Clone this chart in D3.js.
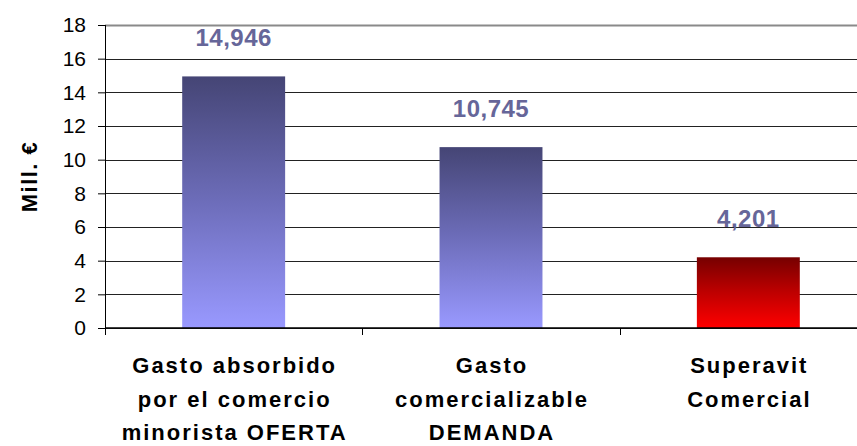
<!DOCTYPE html>
<html>
<head>
<meta charset="utf-8">
<script src="https://cdn.jsdelivr.net/npm/d3@7"></script>
<style>
  html, body { margin: 0; padding: 0; background: #fff; }
  svg { display: block; }
  text { font-family: "Liberation Sans", Arial, sans-serif; }
</style>
</head>
<body>
<svg id="chart" width="857" height="446"></svg>
<script>
// Categories (one entry per label line) and values in millions of euros
const categoryLines = [
  ["Gasto absorbido", "por el comercio", "minorista OFERTA"],
  ["Gasto", "comercializable", "DEMANDA"],
  ["Superavit", "Comercial"]
];
const categoryKeys = ["oferta", "demanda", "superavit"];
const values = [14.946, 10.745, 4.201];
const valueLabels = ["14,946", "10,745", "4,201"];
const fillIds = ["gradBlue", "gradBlue", "gradRed"];
const yTicks = [0, 2, 4, 6, 8, 10, 12, 14, 16, 18];
const yTitle = "Mill. €";

const svg = d3.select("#chart");
const plotLeft = 105, plotRight = 877, plotTop = 25, plotBottom = 328;

// Gradients: dark at the top of each bar, light at the base
const defs = svg.append("defs");
const gb = defs.append("linearGradient").attr("id", "gradBlue")
  .attr("x1", 0).attr("y1", 0).attr("x2", 0).attr("y2", 1);
gb.append("stop").attr("offset", "0%").attr("stop-color", "#454575");
gb.append("stop").attr("offset", "50%").attr("stop-color", "#6d6dba");
gb.append("stop").attr("offset", "100%").attr("stop-color", "#9999ff");
const gr = defs.append("linearGradient").attr("id", "gradRed")
  .attr("x1", 0).attr("y1", 0).attr("x2", 0).attr("y2", 1);
gr.append("stop").attr("offset", "0%").attr("stop-color", "#760000");
gr.append("stop").attr("offset", "45%").attr("stop-color", "#b80000");
gr.append("stop").attr("offset", "100%").attr("stop-color", "#ff0000");

const x = d3.scaleBand().domain(categoryKeys).range([plotLeft, plotRight])
  .paddingInner(0.6).paddingOuter(0.3);
const y = d3.scaleLinear().domain([0, 18]).range([plotBottom, plotTop]);
// crisp 1px lines on the pixel grid
const crisp = v => Math.round(v) + 0.5;

// Horizontal gridlines
svg.append("g").selectAll("line").data(yTicks).join("line")
  .attr("x1", plotLeft).attr("x2", plotRight)
  .attr("y1", d => crisp(y(d))).attr("y2", d => crisp(y(d)))
  .attr("stroke", d => d === 18 ? "#8a8a8a" : "#222")
  .attr("stroke-width", d => d === 18 ? 2 : 1);

// Y axis
const yAxis = d3.axisLeft(y).tickValues(yTicks).tickSize(7).tickPadding(12)
  .tickFormat(d3.format("d"));
const gy = svg.append("g").attr("transform", `translate(${plotLeft},0)`).call(yAxis);
gy.select(".domain").remove();
gy.selectAll(".tick line").attr("stroke", "#000");
gy.selectAll(".tick text").attr("font-size", 21).attr("fill", "#000")
  .attr("font-family", "Liberation Sans, Arial, sans-serif");
svg.append("line").attr("x1", plotLeft + 0.5).attr("x2", plotLeft + 0.5)
  .attr("y1", plotTop).attr("y2", plotBottom + 7).attr("stroke", "#000");

// Bars
svg.append("g").selectAll("rect").data(values).join("rect")
  .attr("x", (d, i) => x(categoryKeys[i]))
  .attr("width", x.bandwidth())
  .attr("y", d => y(d))
  .attr("height", d => y(0) - y(d))
  .attr("fill", (d, i) => `url(#${fillIds[i]})`);

// X axis baseline and category dividers
svg.append("line").attr("x1", plotLeft).attr("x2", plotRight)
  .attr("y1", plotBottom).attr("y2", plotBottom).attr("stroke", "#000").attr("stroke-width", 1.5);
const gap = (x.step() - x.bandwidth()) / 2;
svg.append("g").selectAll("line").data(categoryKeys).join("line")
  .attr("x1", k => crisp(x(k) - gap))
  .attr("x2", k => crisp(x(k) - gap))
  .attr("y1", plotBottom).attr("y2", plotBottom + 7).attr("stroke", "#000");

// Value labels above each bar
svg.append("g").selectAll("text").data(values).join("text")
  .attr("x", (d, i) => x(categoryKeys[i]) + x.bandwidth() / 2)
  .attr("y", d => y(d) - 30)
  .attr("text-anchor", "middle")
  .attr("font-size", 24).attr("font-weight", "bold")
  .attr("letter-spacing", 0.5)
  .attr("fill", "#666699")
  .text((d, i) => valueLabels[i]);

// Category labels
const cat = svg.append("g").selectAll("text").data(categoryLines).join("text")
  .attr("text-anchor", "middle")
  .attr("font-size", 22).attr("font-weight", "bold")
  .attr("letter-spacing", 2)
  .attr("fill", "#000");
cat.each(function (lines, i) {
  const cx = x(categoryKeys[i]) + x.bandwidth() / 2 + 1;
  d3.select(this).selectAll("tspan").data(lines).join("tspan")
    .attr("x", cx)
    .attr("y", (l, j) => 373 + j * 33.5)
    .text(l => l);
});

// Y axis title
svg.append("text")
  .attr("transform", `translate(37,${(plotTop + plotBottom) / 2}) rotate(-90)`)
  .attr("text-anchor", "middle")
  .attr("font-size", 22).attr("font-weight", "bold")
  .attr("letter-spacing", 1.5)
  .text(yTitle);
</script>
</body>
</html>
